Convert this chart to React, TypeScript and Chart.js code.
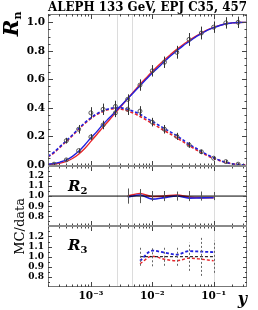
import React, { useEffect, useRef } from 'react';
import { Chart, registerables } from 'chart.js';

Chart.register(...registerables);

const TITLE = 'ALEPH 133 GeV, EPJ C35, 457';
const X_MIN = 0.0002;
const X_MAX = 0.35;

const xTickValues = [0.001, 0.01, 0.1];
const xTickLabels = ['10⁻³', '10⁻²', '10⁻¹'];
const mainTicks = [0, 0.2, 0.4, 0.6, 0.8, 1.0];
const ratioTicks = [0.8, 0.9, 1.0, 1.1, 1.2];
const refLines = [0.0027, 0.0047, 0.1];

// MC curves (y_cut grid)
const mcX = [
  0.0002, 0.000251, 0.000316, 0.000398, 0.000501, 0.000631, 0.000794, 0.001,
  0.00126, 0.00158, 0.002, 0.00251, 0.00316, 0.00398, 0.00501, 0.00631, 0.00794, 0.01,
  0.0126, 0.0158, 0.02, 0.0251, 0.0316, 0.0398, 0.0501, 0.0631, 0.0794, 0.1,
  0.126, 0.158, 0.2, 0.251, 0.316, 0.35,
];
const mcR2Blue = [
  0.005, 0.01, 0.02, 0.035, 0.06, 0.095, 0.14, 0.19,
  0.235, 0.285, 0.33, 0.375, 0.42, 0.465, 0.51, 0.555, 0.6, 0.645,
  0.685, 0.725, 0.765, 0.8, 0.835, 0.865, 0.895, 0.92, 0.945, 0.962,
  0.978, 0.99, 0.996, 0.999, 1.0, 1.0,
];
const mcR2Red = [
  0.003, 0.006, 0.012, 0.025, 0.045, 0.075, 0.115, 0.165,
  0.215, 0.265, 0.315, 0.365, 0.415, 0.465, 0.515, 0.565, 0.61, 0.655,
  0.697, 0.737, 0.775, 0.81, 0.843, 0.872, 0.9, 0.925, 0.947, 0.964,
  0.979, 0.99, 0.996, 0.999, 1.0, 1.0,
];
const mcR3Blue = [
  0.06, 0.09, 0.13, 0.17, 0.21, 0.255, 0.295, 0.33,
  0.36, 0.38, 0.395, 0.402, 0.4, 0.39, 0.375, 0.355, 0.33, 0.305,
  0.28, 0.255, 0.23, 0.205, 0.175, 0.145, 0.12, 0.095, 0.07, 0.05,
  0.032, 0.018, 0.008, 0.003, 0.0, 0.0,
];
const mcR3Red = [
  0.055, 0.085, 0.125, 0.165, 0.205, 0.25, 0.29, 0.325,
  0.355, 0.375, 0.39, 0.395, 0.39, 0.378, 0.362, 0.34, 0.316, 0.29,
  0.265, 0.24, 0.215, 0.19, 0.163, 0.136, 0.11, 0.087, 0.065, 0.046,
  0.03, 0.017, 0.008, 0.003, 0.0, 0.0,
];

// Data
const r2DataX = [0.000251, 0.000398, 0.000631, 0.001, 0.00158, 0.00251, 0.00398, 0.00631, 0.01, 0.0158, 0.0251, 0.0398, 0.0631, 0.1, 0.158, 0.251];
const r2Data = [0.005, 0.035, 0.1, 0.196, 0.28, 0.365, 0.46, 0.56, 0.66, 0.72, 0.79, 0.88, 0.925, 0.966, 0.996, 1.0];
const r2Err = [0.005, 0.01, 0.015, 0.02, 0.03, 0.03, 0.035, 0.04, 0.04, 0.04, 0.045, 0.045, 0.045, 0.04, 0.04, 0.04];

const r3DataX = [0.000398, 0.000631, 0.001, 0.00158, 0.00251, 0.00398, 0.00631, 0.01, 0.0158, 0.0251, 0.0398, 0.0631, 0.1, 0.158, 0.251];
const r3Data = [0.17, 0.25, 0.365, 0.39, 0.41, 0.39, 0.377, 0.3, 0.25, 0.2, 0.14, 0.092, 0.047, 0.023, 0.005];
const r3Err = [0.02, 0.03, 0.04, 0.04, 0.04, 0.04, 0.035, 0.03, 0.03, 0.025, 0.02, 0.015, 0.012, 0.01, 0.007];

// Ratio panels (MC/data)
const ratio2X = [0.00398, 0.00631, 0.01, 0.0158, 0.0251, 0.0398, 0.0631, 0.1];
const ratio2Data = [1, 1, 1, 1, 1, 1, 1, 1];
const ratio2Err = [0.075, 0.07, 0.05, 0.05, 0.045, 0.05, 0.045, 0.04];
const ratio2Red = [1.0, 1.025, 0.995, 1.0, 1.01, 0.99, 0.985, 0.985];
const ratio2Blue = [0.99, 1.01, 0.97, 0.985, 1.0, 0.98, 0.982, 0.983];

const ratio3X = [0.00631, 0.01, 0.0158, 0.0251, 0.0398, 0.0631, 0.1];
const ratio3Data = [1, 1, 1, 1, 1, 1, 1];
const ratio3Err = [0.09, 0.095, 0.09, 0.09, 0.14, 0.19, 0.16];
const ratio3Blue = [0.96, 1.06, 1.04, 1.02, 1.055, 1.05, 1.045];
const ratio3Red = [0.93, 1.005, 0.975, 0.96, 0.985, 0.975, 0.96];

const RED = '#e8262b';
const BLUE = '#2020dd';
const SERIF = '"DejaVu Serif", serif';

const pts = (xs: number[], ys: number[]) => xs.map((x, i) => ({ x, y: ys[i] }));

const decor = {
  id: 'decor',
  beforeDatasetsDraw(chart: any) {
    const { ctx, chartArea: a, scales } = chart;
    ctx.save();
    ctx.strokeStyle = '#dcdcdc';
    ctx.lineWidth = 1;
    refLines.forEach((v) => {
      const px = Math.round(scales.x.getPixelForValue(v)) + 0.5;
      ctx.beginPath();
      ctx.moveTo(px, a.top);
      ctx.lineTo(px, a.bottom);
      ctx.stroke();
    });
    ctx.restore();
  },
  afterDatasetsDraw(chart: any) {
    const { ctx, chartArea: a, scales } = chart;
    // error bars
    chart.data.datasets.forEach((ds: any) => {
      if (!ds.errors) return;
      const ys = scales[ds.yAxisID];
      ctx.save();
      ctx.beginPath();
      ctx.rect(a.left, ys.top, a.right - a.left, ys.bottom - ys.top);
      ctx.clip();
      ctx.strokeStyle = ds.errColor;
      ctx.lineWidth = 1;
      ctx.setLineDash(ds.errDash || []);
      ds.data.forEach((p: any, j: number) => {
        const px = Math.round(scales.x.getPixelForValue(p.x)) + 0.5;
        const y1 = ys.getPixelForValue(p.y - ds.errors[j]);
        const y2 = ys.getPixelForValue(p.y + ds.errors[j]);
        ctx.beginPath();
        ctx.moveTo(px, y1);
        ctx.lineTo(px, y2);
        ctx.stroke();
      });
      ctx.restore();
    });

    // frames
    const panels = [
      { s: scales.y, lo: 0, hi: 1.05, major: mainTicks, step: 0.05, len: 5 },
      { s: scales.yr2, lo: 0.75, hi: 1.25, major: ratioTicks, step: 0.05, len: 4 },
      { s: scales.yr3, lo: 0.75, hi: 1.25, major: ratioTicks, step: 0.05, len: 4 },
    ];
    ctx.save();
    ctx.strokeStyle = '#777';
    ctx.lineWidth = 1;
    panels.forEach(({ s }) => {
      ctx.strokeRect(a.left + 0.5, Math.round(s.top) + 0.5, a.right - a.left - 1, Math.round(s.bottom) - Math.round(s.top) - 1);
    });
    // x ticks
    const xt: { v: number; major: boolean }[] = [];
    [0.0001, 0.001, 0.01, 0.1].forEach((d) => {
      for (let k = 1; k <= 9; k++) {
        const v = k * d;
        if (v >= X_MIN && v <= X_MAX) xt.push({ v, major: k === 1 });
      }
    });
    ctx.strokeStyle = '#444';
    panels.forEach(({ s }) => {
      const top = Math.round(s.top);
      const bot = Math.round(s.bottom);
      xt.forEach(({ v, major }) => {
        const px = Math.round(scales.x.getPixelForValue(v)) + 0.5;
        const l = major ? 5 : 2.5;
        ctx.beginPath();
        ctx.moveTo(px, top);
        ctx.lineTo(px, top + l);
        ctx.moveTo(px, bot);
        ctx.lineTo(px, bot - l);
        ctx.stroke();
      });
    });
    // y ticks
    panels.forEach(({ s, lo, hi, major, step, len }) => {
      for (let v = lo; v <= hi + 1e-9; v += step) {
        const isMajor = major.some((m) => Math.abs(m - v) < 1e-6);
        const py = Math.round(s.getPixelForValue(v)) + 0.5;
        const l = isMajor ? len : len / 2;
        ctx.beginPath();
        ctx.moveTo(a.left, py);
        ctx.lineTo(a.left + l, py);
        ctx.moveTo(a.right, py);
        ctx.lineTo(a.right - l, py);
        ctx.stroke();
      }
    });
    // panel separators
    ctx.strokeStyle = '#8a8a8a';
    ctx.lineWidth = 2;
    [scales.yr2.top, scales.yr3.top].forEach((t: number) => {
      ctx.beginPath();
      ctx.moveTo(a.left, Math.round(t));
      ctx.lineTo(a.right, Math.round(t));
      ctx.stroke();
    });
    ctx.restore();

    // labels
    ctx.save();
    ctx.fillStyle = '#000';
    ctx.textAlign = 'left';
    ctx.textBaseline = 'alphabetic';
    // R_n
    ctx.save();
    ctx.translate(a.left - 30, scales.y.top + 22);
    ctx.rotate(-Math.PI / 2);
    ctx.font = `italic bold 20px ${SERIF}`;
    ctx.fillText('R', 0, 0);
    let w = ctx.measureText('R').width;
    ctx.font = `bold 11px ${SERIF}`;
    ctx.fillText('n', w, 3);
    ctx.restore();
    // MC/data
    ctx.save();
    ctx.translate(a.left - 24, (scales.yr2.top + scales.yr3.bottom) / 2);
    ctx.rotate(-Math.PI / 2);
    ctx.textAlign = 'center';
    ctx.font = `13px ${SERIF}`;
    ctx.fillText('MC/data', 0, 0);
    ctx.restore();
    // R_2, R_3
    [
      { s: scales.yr2, sub: '2', dy: 25 },
      { s: scales.yr3, sub: '3', dy: 24 },
    ].forEach(({ s, sub, dy }) => {
      ctx.font = `italic bold 15px ${SERIF}`;
      ctx.fillText('R', a.left + 20, s.top + dy);
      w = ctx.measureText('R').width;
      ctx.font = `bold 10px ${SERIF}`;
      ctx.fillText(sub, a.left + 20 + w, s.top + dy + 3);
    });
    // x axis title
    ctx.textAlign = 'right';
    ctx.font = `italic bold 16px ${SERIF}`;
    ctx.fillText('y', a.right, chart.height - 6);
    ctx.restore();
  },
};

const ratioAxis = (weight: number) => ({
  type: 'linear',
  position: 'left',
  stack: 'panels',
  stackWeight: 1,
  weight,
  min: 0.7,
  max: 1.3,
  afterBuildTicks: (s: any) => {
    s.ticks = ratioTicks.map((v) => ({ value: v }));
  },
  afterFit: (s: any) => {
    s.width = 48;
  },
  ticks: {
    autoSkip: false,
    padding: 4,
    color: '#000',
    font: { family: SERIF, size: 9, weight: 'bold' },
    callback: (v: any) => Number(v).toFixed(1),
  },
  grid: { display: false, drawTicks: false },
  border: { display: false },
});

export default function App() {
  const ref = useRef<HTMLCanvasElement>(null);
  useEffect(() => {
    const mcLine = (label: string, xs: number[], ys: number[], yAxisID: string, color: string, dashed: boolean, width = 1.4) => ({
      label,
      data: pts(xs, ys),
      yAxisID,
      borderColor: color,
      backgroundColor: color,
      borderWidth: width,
      borderDash: dashed ? [3, 2] : [],
      pointRadius: 0,
      cubicInterpolationMode: 'monotone',
      fill: false,
    });
    const chart = new Chart(ref.current!, {
      type: 'line',
      data: {
        datasets: [
          {
            label: 'Data R2',
            data: pts(r2DataX, r2Data),
            yAxisID: 'y',
            showLine: false,
            pointRadius: 2,
            pointBorderWidth: 1,
            pointBorderColor: '#555',
            pointBackgroundColor: 'rgba(255,255,255,0)',
            errors: r2Err,
            errColor: '#333',
          } as any,
          {
            label: 'Data R3',
            data: pts(r3DataX, r3Data),
            yAxisID: 'y',
            showLine: false,
            pointRadius: 2,
            pointBorderWidth: 1,
            pointBorderColor: '#555',
            pointBackgroundColor: 'rgba(255,255,255,0)',
            errors: r3Err,
            errColor: '#333',
          } as any,
          mcLine('MC R2 blue', mcX, mcR2Blue, 'y', BLUE, false),
          mcLine('MC R3 blue', mcX, mcR3Blue, 'y', BLUE, true, 1.6),
          mcLine('MC R2 red', mcX, mcR2Red, 'y', RED, false),
          mcLine('MC R3 red', mcX, mcR3Red, 'y', RED, true, 1.6),
          {
            label: 'Data/Data R2 (line)',
            data: [{ x: X_MIN, y: 1 }, { x: X_MAX, y: 1 }],
            yAxisID: 'yr2',
            borderColor: '#000',
            borderWidth: 1,
            pointRadius: 0,
          } as any,
          {
            label: 'Data/Data R2',
            data: pts(ratio2X, ratio2Data),
            yAxisID: 'yr2',
            showLine: false,
            pointRadius: 0,
            errors: ratio2Err,
            errColor: '#555',
          } as any,
          mcLine('MC/data R2 blue', ratio2X, ratio2Blue, 'yr2', BLUE, false, 1.6),
          mcLine('MC/data R2 red', ratio2X, ratio2Red, 'yr2', RED, false, 1.6),
          {
            label: 'Data/Data R3',
            data: pts(ratio3X, ratio3Data),
            yAxisID: 'yr3',
            borderColor: '#000',
            borderWidth: 1,
            borderDash: [3, 2],
            pointRadius: 0,
            errors: ratio3Err,
            errColor: '#666',
            errDash: [2, 2],
          } as any,
          mcLine('MC/data R3 blue', ratio3X, ratio3Blue, 'yr3', BLUE, true, 1.8),
          mcLine('MC/data R3 red', ratio3X, ratio3Red, 'yr3', RED, true, 1.4),
        ] as any,
      },
      options: {
        animation: false,
        responsive: false,
        devicePixelRatio: 1,
        layout: { padding: { top: 0, right: 11, bottom: 0, left: 0 } },
        plugins: {
          legend: { display: false },
          tooltip: { enabled: false },
          title: {
            display: true,
            text: TITLE,
            fullSize: false,
            color: '#000',
            font: { family: SERIF, size: 12, weight: 'bold', lineHeight: 1.05 },
            padding: { top: 1.6, bottom: 0 },
          },
        },
        scales: {
          x: {
            type: 'logarithmic',
            position: 'bottom',
            min: X_MIN,
            max: X_MAX,
            afterBuildTicks: (s: any) => {
              s.ticks = xTickValues.map((v) => ({ value: v, major: true }));
            },
            afterFit: (s: any) => {
              s.height = 23;
            },
            ticks: {
              autoSkip: false,
              maxRotation: 0,
              padding: 3,
              color: '#000',
              font: { family: SERIF, size: 10.5, weight: 'bold' },
              callback: (_v: any, i: number) => xTickLabels[i],
            },
            grid: { display: false, drawTicks: false },
            border: { display: false },
          },
          y: {
            type: 'linear',
            position: 'left',
            stack: 'panels',
            stackWeight: 2.5,
            weight: 3,
            min: -0.006,
            max: 1.057,
            afterBuildTicks: (s: any) => {
              s.ticks = mainTicks.map((v) => ({ value: v }));
            },
            afterFit: (s: any) => {
              s.width = 48;
            },
            ticks: {
              autoSkip: false,
              padding: 3,
              color: '#000',
              font: { family: SERIF, size: 10.5, weight: 'bold' },
              callback: (v: any) => Number(v).toFixed(1),
            },
            grid: { display: false, drawTicks: false },
            border: { display: false },
          },
          yr2: ratioAxis(2),
          yr3: ratioAxis(1),
        },
      } as any,
      plugins: [decor],
    });
    return () => chart.destroy();
  }, []);
  return (
    <div style={{ position: 'absolute', left: 0, top: 0, width: 258, height: 310, background: '#fff' }}>
      <canvas ref={ref} width={258} height={310} style={{ display: 'block' }} />
    </div>
  );
}
